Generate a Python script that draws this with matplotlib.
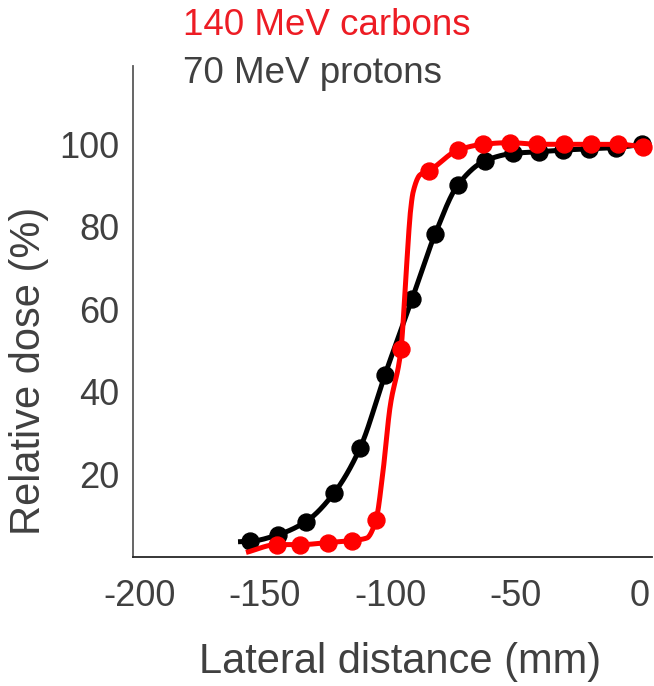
import matplotlib

matplotlib.use("Agg")
import matplotlib.pyplot as plt
import numpy as np

# ---------------------------------------------------------------- data
# measured points (lateral distance in mm, relative dose in %)
proton_x = [-156, -144.8, -133.6, -122.4, -112, -102, -91.2, -82, -72.8, -62, -50.8, -40.4,
            -30.8, -20.4, -9.6, 0.8]
proton_y = [3.8, 5.4, 8.6, 15.5, 26.4, 44.2, 62.5, 78.2, 90.2, 96.0, 97.8, 98.2, 98.6, 98.9,
            99.2, 100.0]

carbon_x = [-145.3, -136, -124.8, -115.2, -105.6, -95.6, -84.4, -72.8, -62.8, -52, -41.2,
            -30.4, -19.7, -8.8, 1.1]
carbon_y = [3.0, 3.0, 3.5, 4.0, 9.0, 50.5, 93.6, 98.6, 100.0, 100.4, 100.0, 100.0, 100.0,
            100.0, 99.4]

# traced smooth curves
proton_curve_x = [-160.8] + proton_x
proton_curve_y = [3.7] + proton_y
carbon_curve_x = [-157.6, -145.3, -136, -124.8, -115.2, -109.3, -105.6, -102.9, -100, -95.6,
                  -93.6, -91.7, -90.7, -88, -84.4, -72.8, -62.8, -52, -41.2, -30.4, -19.7,
                  -8.8, 1.1]
carbon_curve_y = [1.1, 3.0, 3.0, 3.5, 4.0, 4.6, 9.0, 20.3, 36.3, 50.4,
                  68.5, 84.5, 88.6, 92.6, 93.6, 98.6, 100.0, 100.4, 100.0, 100.0, 100.0,
                  100.0, 99.4]

x_ticks = [-200, -150, -100, -50, 0]
y_ticks = [20, 40, 60, 80, 100]

C_TEXT = "#404040"
C_RED = "#FF0000"
C_RED_TXT = "#ED1C24"

plt.rcParams.update({
    "font.family": ["Liberation Sans", "DejaVu Sans"],
    "font.size": 26,
})


def smooth(x, y, n=600):
    """Monotone cubic (PCHIP-style) rendering of a traced line."""
    x = np.asarray(x, float)
    y = np.asarray(y, float)
    h = np.diff(x)
    d = np.diff(y) / h
    m = np.zeros_like(y)
    for k in range(1, len(x) - 1):
        if d[k - 1] * d[k] > 0:
            w1 = 2 * h[k] + h[k - 1]
            w2 = h[k] + 2 * h[k - 1]
            m[k] = (w1 + w2) / (w1 / d[k - 1] + w2 / d[k])
    m[0], m[-1] = d[0], d[-1]
    xs = np.linspace(x[0], x[-1], n)
    i = np.clip(np.searchsorted(x, xs) - 1, 0, len(x) - 2)
    t = (xs - x[i]) / h[i]
    h00 = 2 * t**3 - 3 * t**2 + 1
    h10 = t**3 - 2 * t**2 + t
    h01 = -2 * t**3 + 3 * t**2
    h11 = t**3 - t**2
    ys = h00 * y[i] + h10 * h[i] * m[i] + h01 * y[i + 1] + h11 * h[i] * m[i + 1]
    return xs, ys


fig = plt.figure(figsize=(6.54, 6.86), dpi=100)
ax = fig.add_axes([0.2034, 0.188, 0.7936, 0.716])

px, py = smooth(proton_curve_x, proton_curve_y)
cx, cy = smooth(carbon_curve_x, carbon_curve_y)
ax.plot(px, py, color="black", lw=3.6, zorder=2, solid_capstyle="butt")
ax.plot(proton_x, proton_y, "o", color="black", ms=12.2, zorder=3)
ax.plot(cx, cy, color=C_RED, lw=3.6, zorder=4, solid_capstyle="butt")
ax.plot(carbon_x, carbon_y, "o", color=C_RED, ms=12.2, zorder=5)

ax.set_xlim(-202.8, 4.8)
ax.set_ylim(0, 119)
ax.set_xticks(x_ticks)
ax.set_xticklabels([str(v) for v in x_ticks])
ax.set_yticks(y_ticks)
ax.tick_params(length=0, colors=C_TEXT, labelsize=26)
ax.tick_params(axis="x", pad=16)
ax.tick_params(axis="y", pad=10)
for s in ("top", "right"):
    ax.spines[s].set_visible(False)
ax.spines["left"].set_color("#595959")
ax.spines["left"].set_linewidth(1.3)
ax.spines["bottom"].set_color("#262626")
ax.spines["bottom"].set_linewidth(1.3)
for lab in ax.get_xticklabels() + ax.get_yticklabels():
    lab.set_clip_on(False)

ax.set_xlabel("Lateral distance (mm)", fontsize=30, color=C_TEXT)
ax.xaxis.set_label_coords(0.514, -0.213)
ax.xaxis.label.set_va("center")
ax.set_ylabel("Relative dose (%)", fontsize=30, color=C_TEXT)
ax.yaxis.set_label_coords(-0.2, 0.378)
ax.yaxis.label.set_va("center")

fig.text(0.28, 0.963, "140 MeV carbons", color=C_RED_TXT, fontsize=26.5, ha="left", va="center")
fig.text(0.28, 0.893, "70 MeV protons", color=C_TEXT, fontsize=26.5, ha="left", va="center")

fig.savefig("out.png", dpi=100)
